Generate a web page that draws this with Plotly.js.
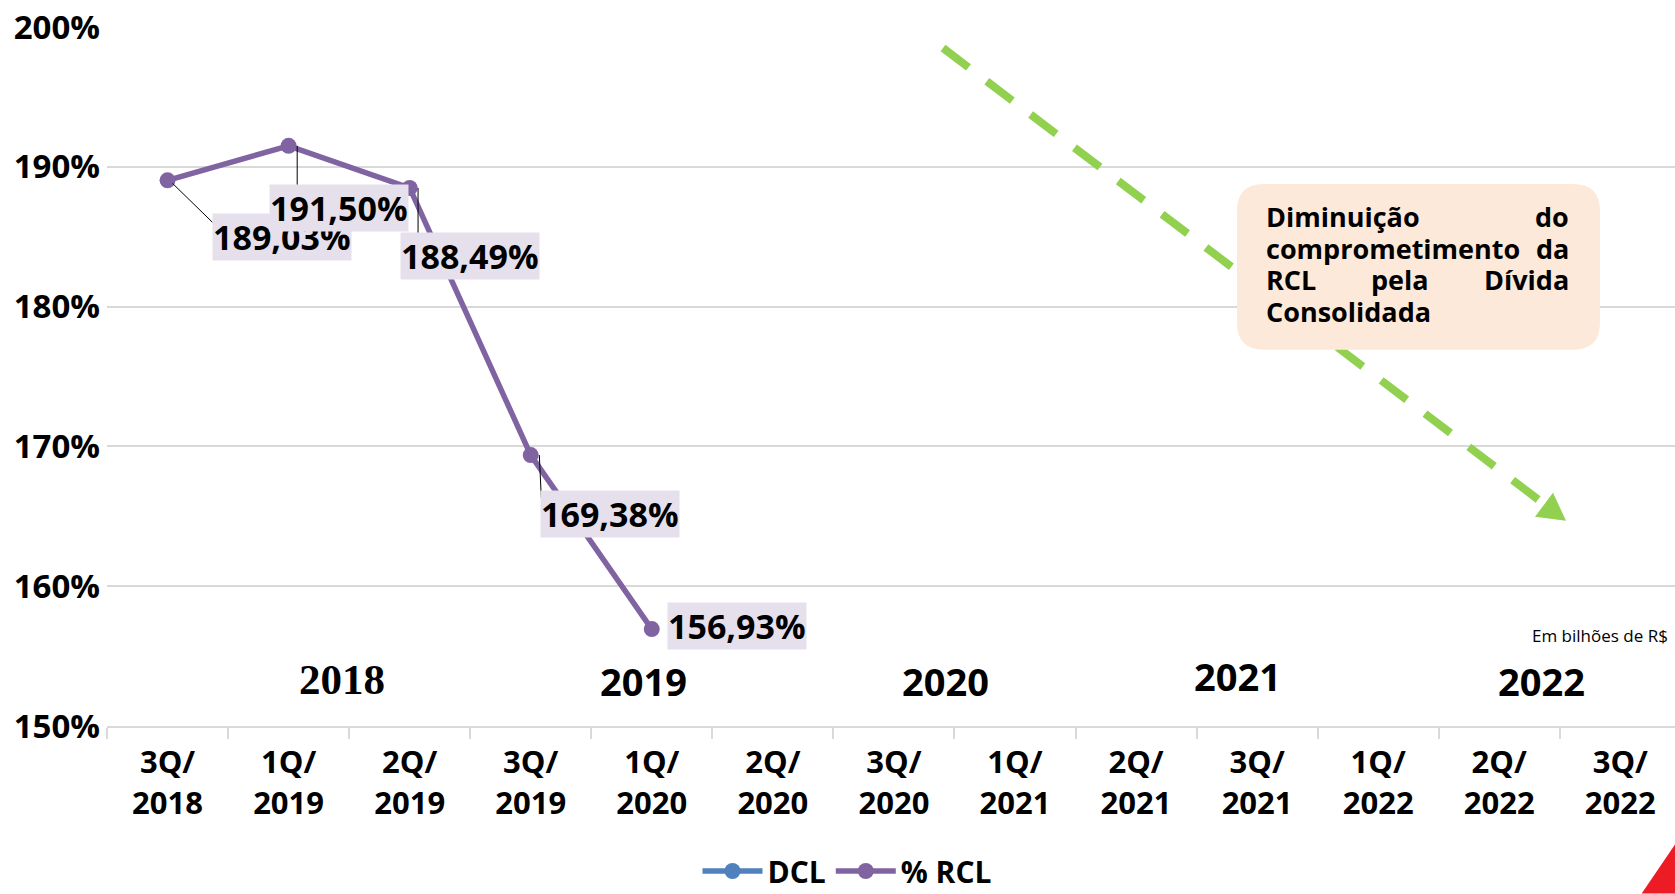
<!DOCTYPE html>
<html>
<head>
<meta charset="utf-8">
<script src="https://cdn.plot.ly/plotly-3.0.1.min.js"></script>
<style>
  html, body { margin: 0; padding: 0; background: #ffffff; }
  #chart { width: 1675px; height: 894px; }
</style>
</head>
<body>
<div id="chart"></div>
<script>
// ---------- data ----------
const categories = ['3Q/2018', '1Q/2019', '2Q/2019', '3Q/2019', '1Q/2020', '2Q/2020', '3Q/2020',
                    '1Q/2021', '2Q/2021', '3Q/2021', '1Q/2022', '2Q/2022', '3Q/2022'];
const pctRCL = [189.03, 191.50, 188.49, 169.38, 156.93, null, null, null, null, null, null, null, null];
const dcl = [null, null, null, null, null, null, null, null, null, null, null, null, null];
const seriesNames = ['DCL', '% RCL'];
const yTickValues = [150, 160, 170, 180, 190, 200];
const yearLabels = ['2018', '2019', '2020', '2021', '2022'];
const calloutLines = [['Diminuição', 'do'], ['comprometimento', 'da'], ['RCL', 'pela', 'Dívida'], ['Consolidada']];
const unitNote = 'Em bilhões de R$';

// ---------- layout helpers (pixel -> paper) ----------
const ML = 107, MT = 27, PW = 1568, PH = 699.4, FULLH = 894;
const px = x => (x - ML) / PW;
const py = y => (MT + PH - y) / PH;
const pt = (x, y) => px(x).toFixed(5) + ',' + py(y).toFixed(5);

const FONT = 'Open Sans, Noto Sans, DejaVu Sans, sans-serif';
const fmt = v => v.toFixed(2).replace('.', ',') + '%';

const traces = [
  {
    type: 'scatter', mode: 'lines+markers', name: seriesNames[0],
    x: categories, y: dcl,
    line: { color: '#4f81bd', width: 5.5 }, marker: { color: '#4f81bd', size: 16 },
    hoverinfo: 'skip'
  },
  {
    type: 'scatter', mode: 'lines+markers', name: seriesNames[1],
    x: categories, y: pctRCL,
    line: { color: '#8064a2', width: 5.5 }, marker: { color: '#8064a2', size: 16 },
    connectgaps: false, hoverinfo: 'skip'
  }
];

// data label placement (pixels, y downward): text centre offset and leader line
const labelStyle = [
  { dx: 114, dy: 57, lead: [5, 3, 45, 42] },
  { dx: 50, dy: 62, lead: [8.6, 0, 8.6, 46] },
  { dx: 60, dy: 68, lead: [8.4, 0, 8.4, 51] },
  { dx: 79, dy: 59, lead: [8.6, 0, 10.6, 43] },
  { dx: 85, dy: -3, lead: null }
];

const annotations = [];
const shapes = [];
pctRCL.forEach((v, i) => {
  if (v === null) return;
  const s = labelStyle[i];
  if (s.lead) {
    shapes.push({
      type: 'line', xref: 'x', yref: 'y', xsizemode: 'pixel', ysizemode: 'pixel',
      xanchor: i, yanchor: v,
      x0: s.lead[0], y0: -s.lead[1], x1: s.lead[2], y1: -s.lead[3],
      line: { color: '#000000', width: 1 }, layer: 'above'
    });
  }
  annotations.push({
    x: i, y: v, xref: 'x', yref: 'y',
    text: fmt(v), showarrow: false, xshift: s.dx, yshift: -s.dy,
    font: { family: FONT, size: 34, color: '#000000', weight: 700 },
    bgcolor: '#e5e0ec', borderpad: 0
  });
});

// year labels inside the plot
const yearPos = [[1.44, 153.3, 'Liberation Serif, Times New Roman, serif', 43],
                 [3.93, 153.25, FONT, 38],
                 [6.43, 153.25, FONT, 38],
                 [8.84, 153.6, FONT, 38],
                 [11.35, 153.25, FONT, 38]];
yearLabels.forEach((t, i) => {
  annotations.push({
    x: yearPos[i][0], y: yearPos[i][1], xref: 'x', yref: 'y', text: t, showarrow: false,
    xanchor: 'center', yanchor: 'middle',
    font: { family: yearPos[i][2], size: yearPos[i][3], color: '#000000', weight: 700 }
  });
});

// callout text (justified by word placement)
const lineY = [216.7, 248.4, 280, 311.7];
const boxL = 1265, boxR = 1570;
calloutLines.forEach((words, li) => {
  words.forEach((w, wi) => {
    let x, anchor;
    if (words.length === 1 || wi === 0) { x = boxL; anchor = 'left'; }
    else if (wi === words.length - 1) { x = boxR; anchor = 'right'; }
    else { x = 1399.5; anchor = 'center'; }
    annotations.push({
      x: px(x), y: py(lineY[li]), xref: 'paper', yref: 'paper', text: w, showarrow: false,
      xanchor: anchor, yanchor: 'middle', borderpad: 0,
      font: { family: FONT, size: 27, color: '#000000', weight: 700 }
    });
  });
});

annotations.push({
  x: px(1670), y: py(636), xref: 'paper', yref: 'paper', text: unitNote, showarrow: false,
  xanchor: 'right', yanchor: 'middle', font: { family: FONT, size: 17, color: '#000000' }
});

// decoration: dashed trend arrow, arrow head, callout box, red corner
const rx0 = 1237, rx1 = 1600, ry0 = 184, ry1 = 350, rr = 27;
const boxPath = 'M' + pt(rx0 + rr, ry0) + ' L' + pt(rx1 - rr, ry0) + ' Q' + pt(rx1, ry0) + ' ' + pt(rx1, ry0 + rr) +
  ' L' + pt(rx1, ry1 - rr) + ' Q' + pt(rx1, ry1) + ' ' + pt(rx1 - rr, ry1) +
  ' L' + pt(rx0 + rr, ry1) + ' Q' + pt(rx0, ry1) + ' ' + pt(rx0, ry1 - rr) +
  ' L' + pt(rx0, ry0 + rr) + ' Q' + pt(rx0, ry0) + ' ' + pt(rx0 + rr, ry0) + ' Z';

shapes.push(
  { type: 'line', xref: 'paper', yref: 'paper', x0: px(943), y0: py(48), x1: px(1545), y1: py(505),
    line: { color: '#92d050', width: 8, dash: '32px,23px' }, layer: 'above' },
  { type: 'path', xref: 'paper', yref: 'paper',
    path: 'M' + pt(1566, 521) + ' L' + pt(1553, 493) + ' L' + pt(1535, 517) + ' Z',
    fillcolor: '#92d050', line: { width: 0 }, layer: 'above' },
  { type: 'path', xref: 'paper', yref: 'paper', path: boxPath,
    fillcolor: '#fde9d9', line: { width: 0 }, layer: 'above' },
  { type: 'path', xref: 'paper', yref: 'paper',
    path: 'M' + pt(1641.7, 894) + ' L' + pt(1675, 845) + ' L' + pt(1675, 894) + ' Z',
    fillcolor: '#ed1c24', line: { width: 0 }, layer: 'above' }
);

const tickText = categories.map(c => c.replace('/', '/<br>'));

const layout = {
  width: 1675, height: FULLH,
  margin: { l: ML, r: 0, t: MT, b: FULLH - MT - PH, pad: 0, autoexpand: false },
  paper_bgcolor: '#ffffff', plot_bgcolor: '#ffffff',
  font: { family: FONT, color: '#000000' },
  showlegend: true,
  legend: {
    orientation: 'h', xref: 'container', yref: 'container',
    x: 847 / 1675, xanchor: 'center', y: 1 - 871 / FULLH, yanchor: 'middle',
    font: { family: FONT, size: 30, color: '#000000', weight: 700 },
    bgcolor: 'rgba(0,0,0,0)', itemwidth: 60, traceorder: 'normal'
  },
  xaxis: {
    type: 'category', categoryorder: 'array', categoryarray: categories,
    range: [-0.5, 12.452], fixedrange: true,
    tickmode: 'array', tickvals: categories, ticktext: tickText,
    tickson: 'boundaries', ticks: 'outside', ticklen: 11, tickwidth: 2, tickcolor: '#d9d9d9',
    ticklabelstandoff: 8,
    showline: true, linecolor: '#d9d9d9', linewidth: 2,
    showgrid: false, zeroline: false,
    tickfont: { family: FONT, size: 31, color: '#000000', weight: 700 }
  },
  yaxis: {
    range: [150, 200], fixedrange: true,
    tickmode: 'array', tickvals: yTickValues, ticktext: yTickValues.map(v => v + '%'),
    ticks: '', showline: false, zeroline: false,
    showgrid: true, gridcolor: '#d9d9d9', gridwidth: 2,
    ticklabelstandoff: 6,
    tickfont: { family: FONT, size: 33, color: '#000000', weight: 700 }
  },
  annotations: annotations,
  shapes: shapes
};

Plotly.newPlot('chart', traces, layout, { staticPlot: true, displayModeBar: false });
</script>
</body>
</html>
